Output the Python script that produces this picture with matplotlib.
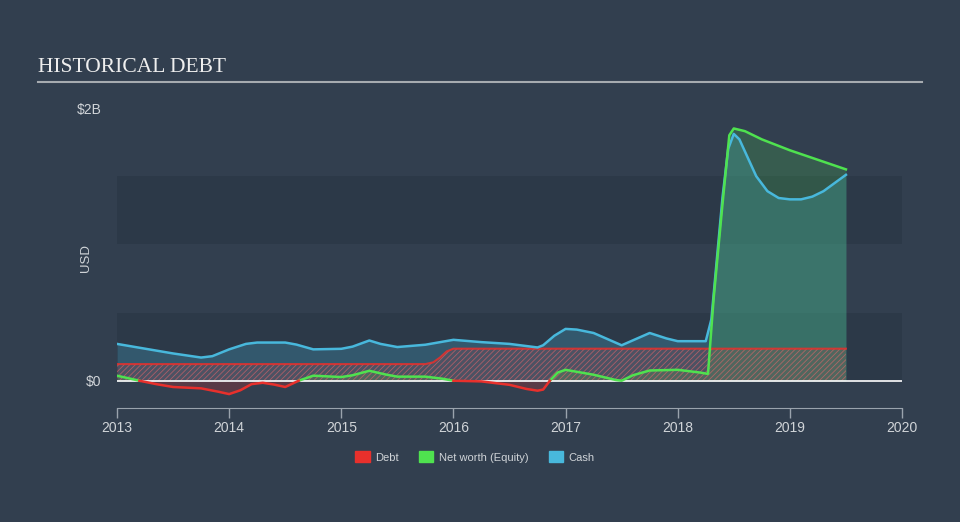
import matplotlib
matplotlib.use("Agg")
from matplotlib import pyplot as plt
from matplotlib.patches import Patch
import numpy as np

# values in $B
debt_x = [2013.0, 2015.75, 2015.82, 2015.88, 2015.94, 2016.0, 2019.5]
debt_y = [0.122, 0.122, 0.135, 0.17, 0.215, 0.235, 0.235]

equity_x = [2013.0, 2013.2, 2013.35, 2013.5, 2013.75, 2013.9, 2014.0, 2014.1, 2014.2, 2014.3,
            2014.4, 2014.5, 2014.62, 2014.75, 2015.0, 2015.1, 2015.25, 2015.4, 2015.5,
            2015.75, 2015.9, 2016.0, 2016.25, 2016.5, 2016.65, 2016.75, 2016.8, 2016.86,
            2016.93, 2017.0, 2017.25, 2017.45, 2017.5, 2017.6, 2017.75, 2018.0, 2018.2, 2018.27,
            2018.32, 2018.4, 2018.46, 2018.5, 2018.6, 2018.75, 2019.0, 2019.25, 2019.5]
equity_y = [0.037, 0.0, -0.025, -0.046, -0.056, -0.08, -0.098, -0.07, -0.025, -0.015,
            -0.028, -0.046, 0.0, 0.037, 0.027, 0.04, 0.073, 0.045, 0.03,
            0.03, 0.015, 0.0, -0.005, -0.03, -0.06, -0.073, -0.065, 0.0,
            0.06, 0.08, 0.044, 0.005, 0.0, 0.04, 0.075, 0.08, 0.06, 0.05,
            0.6, 1.3, 1.8, 1.85, 1.83, 1.77, 1.69, 1.62, 1.55]

cash_x = [2013.0, 2013.25, 2013.5, 2013.75, 2013.85, 2014.0, 2014.15, 2014.25, 2014.5, 2014.6,
          2014.75, 2015.0, 2015.1, 2015.25, 2015.35, 2015.5, 2015.75, 2016.0, 2016.25,
          2016.5, 2016.75, 2016.8, 2016.9, 2017.0, 2017.1, 2017.25, 2017.5, 2017.75,
          2017.9, 2018.0, 2018.25, 2018.3, 2018.35, 2018.4, 2018.45, 2018.5, 2018.55,
          2018.6, 2018.7, 2018.8, 2018.9, 2019.0, 2019.1, 2019.2, 2019.3, 2019.4, 2019.5]
cash_y = [0.27, 0.235, 0.20, 0.17, 0.18, 0.23, 0.27, 0.28, 0.28, 0.265,
          0.23, 0.234, 0.25, 0.295, 0.27, 0.247, 0.264, 0.30, 0.283,
          0.27, 0.244, 0.26, 0.33, 0.38, 0.375, 0.35, 0.26, 0.35,
          0.31, 0.29, 0.29, 0.45, 0.9, 1.35, 1.7, 1.81, 1.77,
          1.68, 1.50, 1.39, 1.34, 1.33, 1.33, 1.35, 1.39, 1.45, 1.51]

years = [2013, 2014, 2015, 2016, 2017, 2018, 2019, 2020]

BG = "#323f4f"
BAND = "#2c3948"
RED = "#e8302c"
GREEN = "#4fe24f"
BLUE = "#48b8dc"
TXT = "#d0d4d8"

plt.rcParams["font.family"] = ["Liberation Sans", "DejaVu Sans"]
plt.rcParams["hatch.linewidth"] = 0.6
plt.rcParams["lines.solid_joinstyle"] = "round"

fig = plt.figure(figsize=(9.6, 5.22), dpi=100, facecolor=BG)
ax = fig.add_axes([117 / 960, 1 - 408 / 522, 785 / 960, 300 / 522])
ax.set_facecolor(BG)

ax.set_xlim(2013, 2020)
ax.set_ylim(-0.2, 2.0)

# background bands
ax.axhspan(0, 0.5, color=BAND, lw=0, zorder=0)
ax.axhspan(1.0, 1.5, color=BAND, lw=0, zorder=0)

eq_x = np.array(equity_x)
eq_y = np.array(equity_y)

# fills
ax.fill_between(cash_x, 0, cash_y, color=BLUE, alpha=0.25, lw=0, zorder=1)
ax.fill_between(eq_x, 0, np.clip(eq_y, 0, None), color=GREEN, alpha=0.18, lw=0, zorder=1)
ax.fill_between(eq_x, np.clip(eq_y, None, 0), 0, color=RED, alpha=0.22, lw=0, zorder=1)
ax.fill_between(debt_x, 0, debt_y, facecolor=(0.91, 0.19, 0.17, 0.14),
                edgecolor=(0.93, 0.4, 0.42, 0.6), hatch="//////", lw=0, zorder=2)

# lines
ax.axhline(0, color="white", lw=1.2, zorder=3)
ax.plot(debt_x, debt_y, color=RED, lw=1.5, zorder=4, alpha=0.85)
ax.plot(cash_x, cash_y, color=BLUE, lw=1.8, zorder=5)
ax.plot(eq_x, np.where(eq_y >= 0, eq_y, np.nan), color=GREEN, lw=1.8, zorder=6)
ax.plot(eq_x, np.where(eq_y <= 0, eq_y, np.nan), color=RED, lw=1.8, zorder=6)

# axes styling
for s in ["top", "right", "left"]:
    ax.spines[s].set_visible(False)
ax.spines["bottom"].set_color("#9aa3ad")
ax.set_xticks(years)
ax.set_xticklabels([str(y) for y in years])
ax.tick_params(axis="x", colors="#9aa3ad", labelcolor=TXT, labelsize=10, length=7, width=1, pad=2)
ax.set_yticks([0, 2.0])
ax.set_yticklabels(["$0", "$2B"])
ax.tick_params(axis="y", length=0, labelcolor=TXT, labelsize=10, pad=11)
ax.set_ylabel("USD", color=TXT, fontsize=9.5)
ax.yaxis.set_label_coords(-0.032, 0.5)

# title and rule
fig.text(38 / 960, 1 - 67 / 522, "HISTORICAL DEBT", family="Liberation Serif",
         fontsize=15.5, color="#eeeeee", va="center", ha="left")
fig.add_artist(plt.Line2D([38 / 960, 922 / 960], [1 - 82 / 522, 1 - 82 / 522],
                          color="#a6abb0", lw=1.5))

handles = [Patch(color=RED, label="Debt"),
           Patch(color=GREEN, label="Net worth (Equity)"),
           Patch(color=BLUE, label="Cash")]
leg = fig.legend(handles=handles, loc="center", bbox_to_anchor=(475 / 960, 1 - 457 / 522),
                 ncol=3, frameon=False, fontsize=8, handlelength=1.3, handleheight=1.1,
                 columnspacing=1.8, handletextpad=0.5)
for t in leg.get_texts():
    t.set_color(TXT)

fig.savefig("out.png", dpi=100, facecolor=BG)
